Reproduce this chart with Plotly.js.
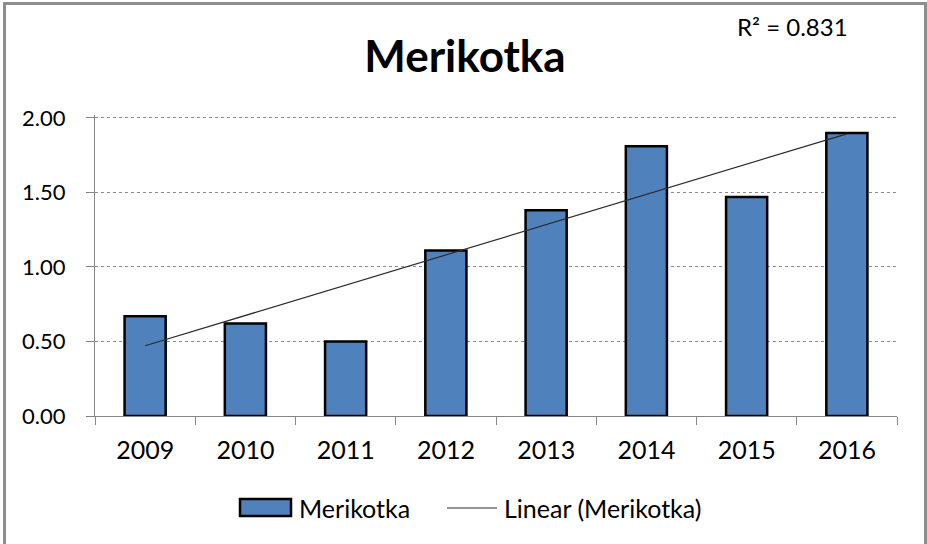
<!DOCTYPE html>
<html>
<head>
<meta charset="utf-8">
<script src="https://cdn.plot.ly/plotly-3.0.1.min.js"></script>
<style>
  body { margin: 0; background: #ffffff; }
  #chart {
    position: absolute; left: 3px; top: 2px;
    width: 918px; height: 539px;
    border: 3px solid #8e8e8e; border-bottom: none;
  }
</style>
</head>
<body>
<div id="chart"></div>
<script>
const years = ["2009", "2010", "2011", "2012", "2013", "2014", "2015", "2016"];
const values = [0.67, 0.62, 0.50, 1.11, 1.38, 1.81, 1.47, 1.90];
const yTicks = [0, 0.5, 1, 1.5, 2];
const rSquaredText = "R\u00b2 = 0.831";

// least-squares trend over the category index
function linearFit(ys) {
    const n = ys.length;
    const xs = ys.map((_, i) => i + 1);
    const mx = xs.reduce((a, b) => a + b, 0) / n;
    const my = ys.reduce((a, b) => a + b, 0) / n;
    let sxy = 0, sxx = 0;
    for (let i = 0; i < n; i++) {
        sxy += (xs[i] - mx) * (ys[i] - my);
        sxx += (xs[i] - mx) * (xs[i] - mx);
    }
    const slope = sxy / sxx;
    return xs.map(x => my + slope * (x - mx));
}
const trend = linearFit(values);

const font = "Lato, 'Liberation Sans', sans-serif";

const bars = {
    type: "bar",
    x: years,
    y: values,
    name: "Merikotka",
    marker: { color: "#4F81BD", line: { color: "#000000", width: 2.5 } },
    hoverinfo: "x+y"
};

const trendLine = {
    type: "scatter",
    mode: "lines",
    x: [years[0], years[years.length - 1]],
    y: [trend[0], trend[trend.length - 1]],
    name: "Linear (Merikotka)",
    line: { color: "#2b2b2b", width: 1.2 }
};

const layout = {
    width: 918,
    height: 539,
    margin: { l: 89, r: 27, t: 110, b: 128 },
    paper_bgcolor: "#ffffff",
    plot_bgcolor: "#ffffff",
    font: { family: font, color: "#000000", size: 24 },
    showlegend: false,
    bargap: 0.59,
    title: {
        text: "<b>Merikotka</b>",
        font: { family: font, size: 44, color: "#000000" },
        x: 0.5, xanchor: "center",
        y: 0.904, yanchor: "middle"
    },
    xaxis: {
        type: "category",
        tickson: "boundaries",
        ticks: "outside",
        ticklen: 8,
        tickcolor: "#868686",
        showline: true,
        linecolor: "#868686",
        linewidth: 1,
        showgrid: false,
        tickfont: { size: 25 },
        ticklabelstandoff: 12
    },
    yaxis: {
        range: [0, 2.02],
        tickvals: yTicks,
        tickformat: ".2f",
        ticks: "outside",
        ticklen: 8,
        tickcolor: "#868686",
        showline: true,
        linecolor: "#868686",
        linewidth: 1,
        showgrid: true,
        gridcolor: "#8c8c8c",
        griddash: "dot",
        gridwidth: 1,
        zeroline: false,
        tickfont: { size: 22 },
        ticklabelstandoff: 16
    },
    shapes: [
        { type: "rect", xref: "paper", yref: "paper",
          x0: 0.1808, x1: 0.2444, y0: -0.3322, y1: -0.2757,
          fillcolor: "#4F81BD", line: { color: "#000000", width: 2.5 } },
        { type: "line", xref: "paper", yref: "paper",
          x0: 0.4389, x1: 0.5012, y0: -0.3056, y1: -0.3056,
          line: { color: "#2b2b2b", width: 1.2 } }
    ],
    annotations: [
        { text: "Merikotka", xref: "paper", yref: "paper",
          x: 0.2519, y: -0.3056, xanchor: "left", yanchor: "middle",
          showarrow: false, font: { size: 25 } },
        { text: "Linear (Merikotka)", xref: "paper", yref: "paper",
          x: 0.5075, y: -0.3056, xanchor: "left", yanchor: "middle",
          showarrow: false, font: { size: 25 } },
        { text: rSquaredText, xref: "paper", yref: "paper",
          x: 0.8691, y: 1.2924, xanchor: "center", yanchor: "middle",
          showarrow: false, font: { size: 24 } }
    ]
};

Plotly.newPlot("chart", [bars, trendLine], layout, { displayModeBar: false });
</script>
</body>
</html>
